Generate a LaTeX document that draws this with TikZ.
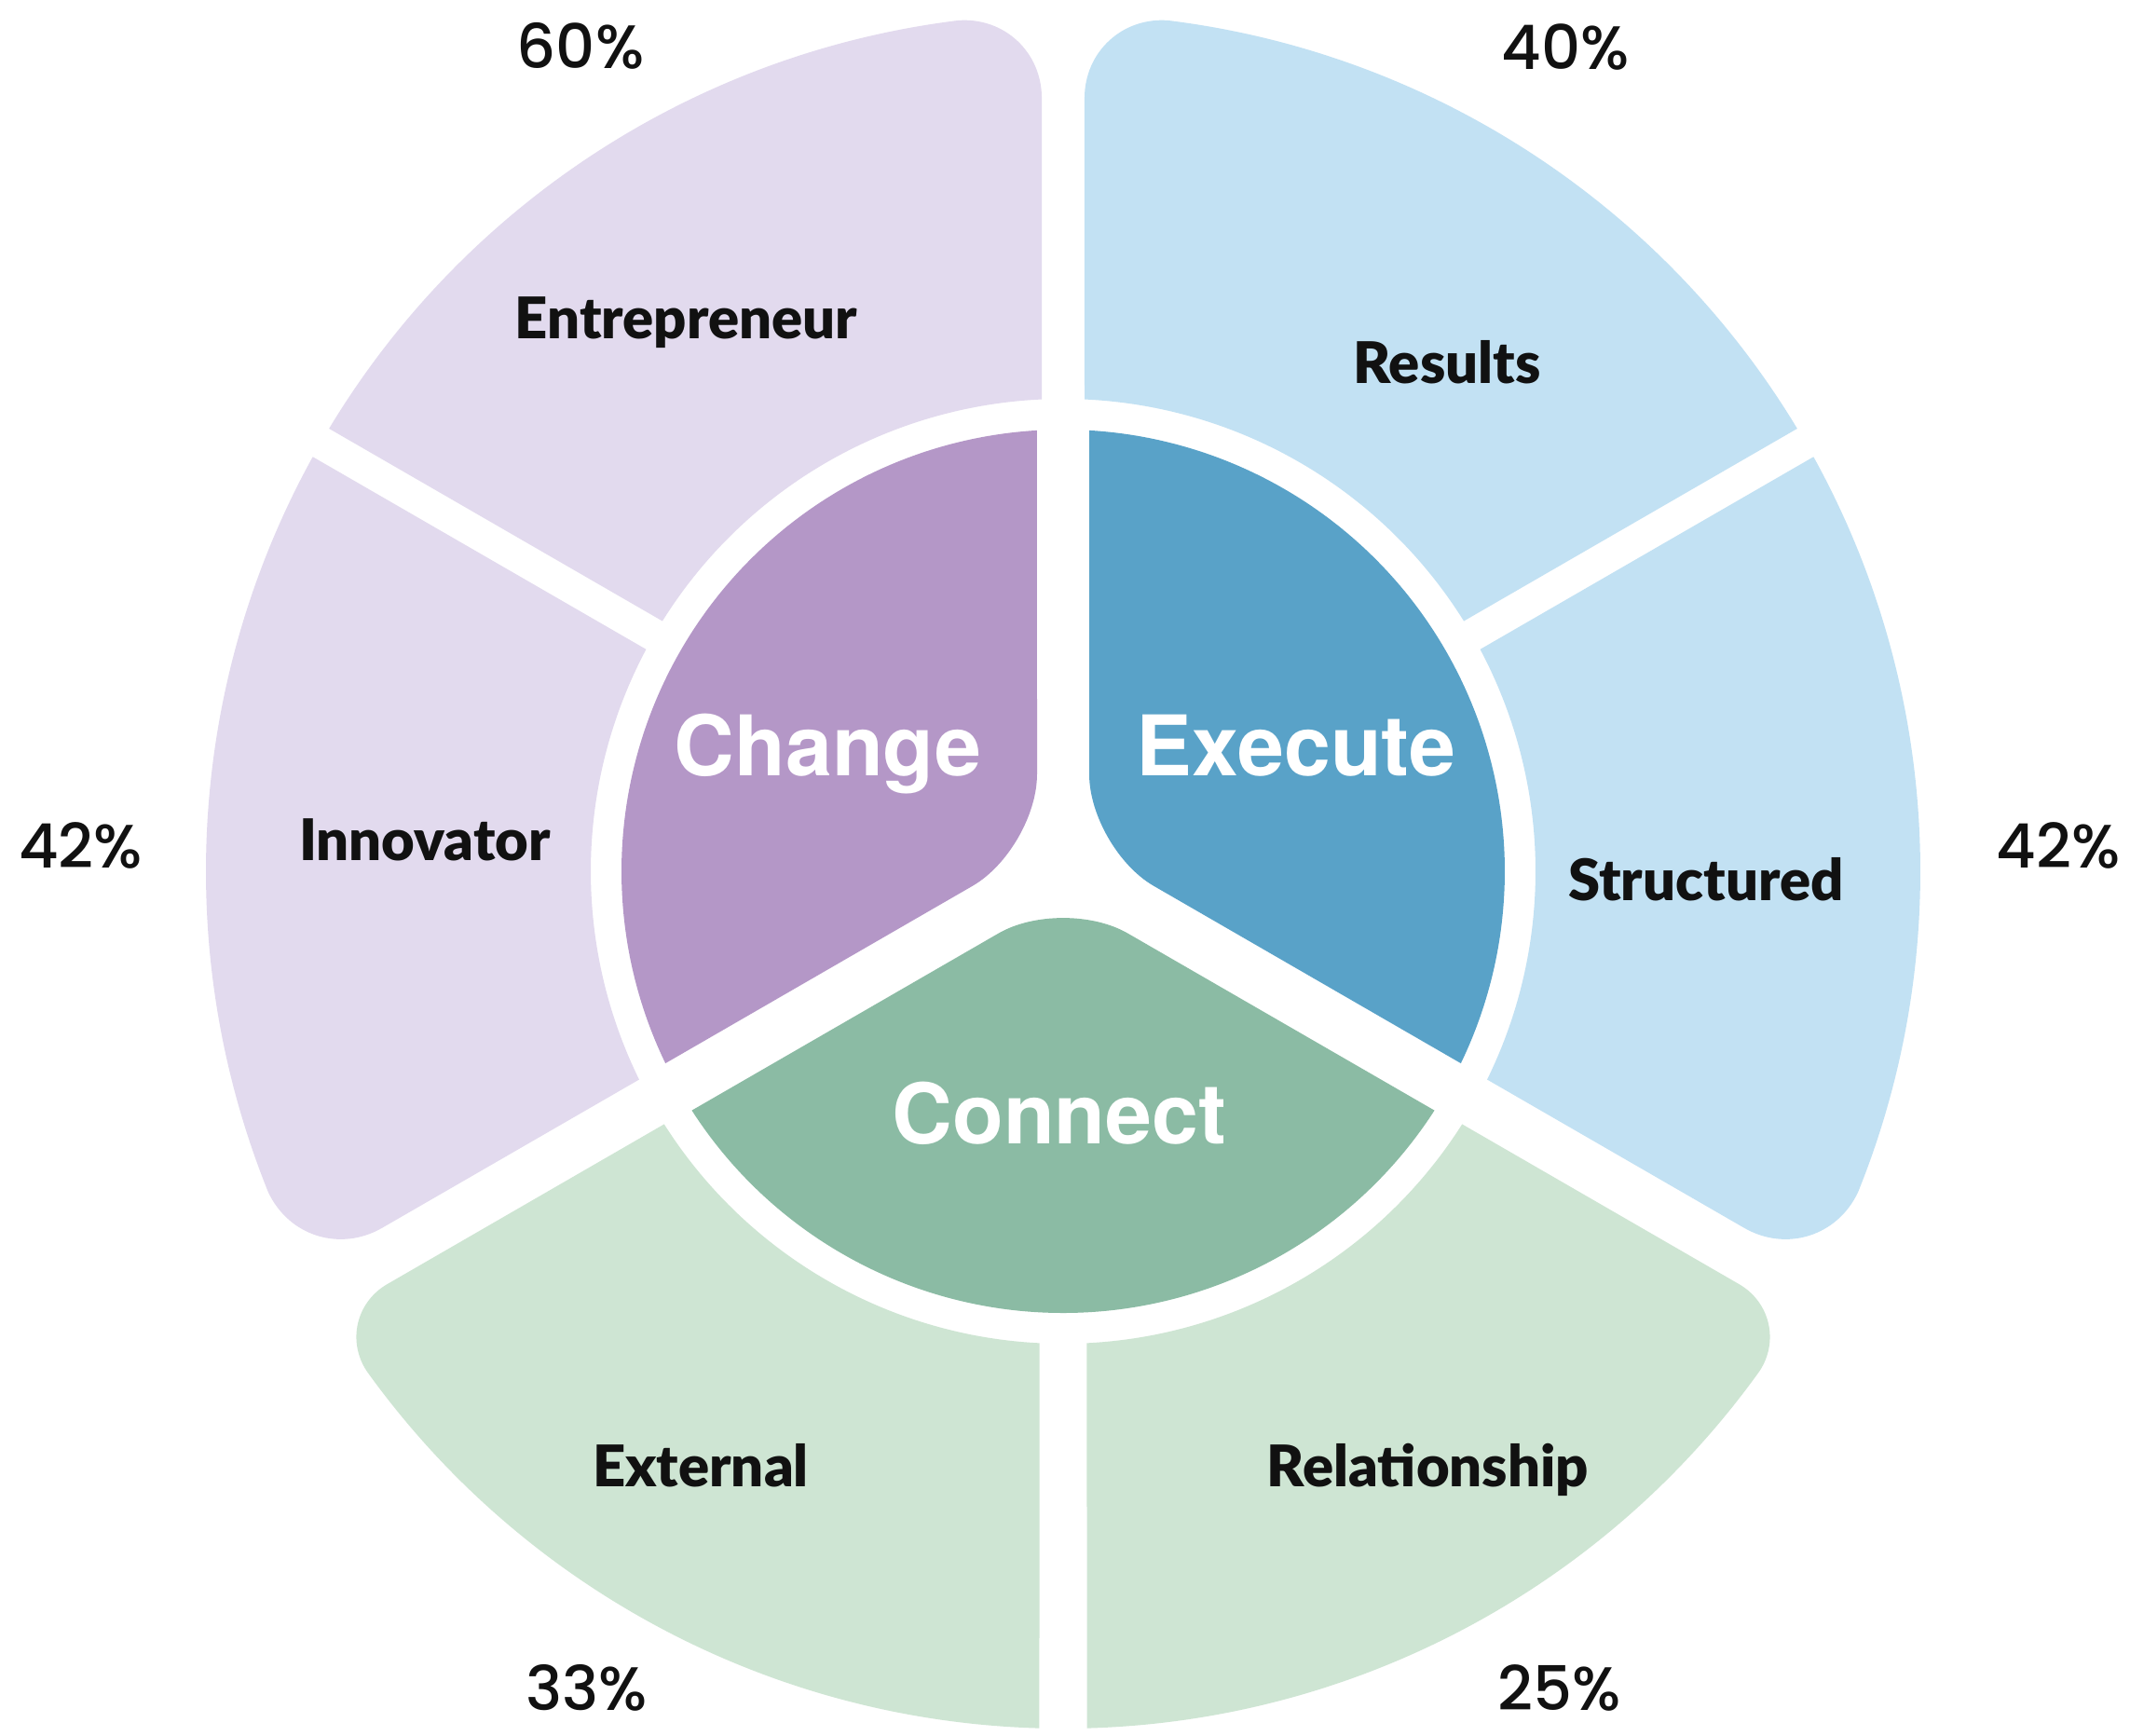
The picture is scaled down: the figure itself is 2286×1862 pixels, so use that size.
\documentclass[tikz,border=0pt]{standalone}
\usepackage{fontspec}
\setmainfont{Lato}
\newfontfamily\headfont{TeX Gyre Heros}
\newfontfamily\segfont{Lato Black}
\newfontfamily\pctfont{Poppins Medium}
\usepackage{xcolor}
\definecolor{ChangeCore}{HTML}{B497C7}
\definecolor{ExecuteCore}{HTML}{59A2C8}
\definecolor{ConnectCore}{HTML}{8BBBA4}
\definecolor{ChangeLight}{HTML}{E2DAEE}
\definecolor{ExecuteLight}{HTML}{C2E1F3}
\definecolor{ConnectLight}{HTML}{CEE5D3}
\definecolor{LabelDark}{HTML}{111111}
\usetikzlibrary{calc}

\begin{document}
\begin{tikzpicture}[
  x=0.01cm, y=0.01cm,
  % Kernsegment (innen)
  core/.style={fill=#1},
  % Ringsegment (aussen)
  ring/.style={fill=#1},
  % Weisser Titel im Kern
  corelbl/.style={
    font=\headfont\bfseries\fontsize{25.5}{30}\selectfont,
    text=white,
    anchor=base,
    inner sep=0pt
  },
  % Segmenttitel im Ring
  seglbl/.style={
    font=\segfont\fontsize{17.5}{21}\selectfont,
    text=LabelDark,
    anchor=base,
    inner sep=0pt
  },
  % Prozentwerte aussen
  pctlbl/.style={
    font=\pctfont\fontsize{18.7}{22}\selectfont,
    text=LabelDark,
    anchor=base,
    inner sep=0pt
  }
]

% =============================================================================
% HINTERGRUND
% =============================================================================
\fill[white] (-1141,-927) rectangle (1145,935);

% =============================================================================
% KERN (r = 474)
% =============================================================================

% Change
\coordinate (chgC) at (-28,24.25);
\coordinate (chgA) at ($(chgC)!0.8cm!(93.39:474)$);
\coordinate (chgB) at ($(chgC)!0.8cm!(205.77:474)$);
\fill[core=ChangeCore] (chgA) -- (93.39:474)
  arc[start angle=93.39, end angle=205.77, radius=474] -- (chgB)
  .. controls ($(chgB)!0.55!(chgC)$) and ($(chgA)!0.55!(chgC)$) .. (chgA) -- cycle;

% Execute
\coordinate (exeC) at (28,24.25);
\coordinate (exeA) at ($(exeC)!0.8cm!(86.61:474)$);
\coordinate (exeB) at ($(exeC)!0.8cm!(-25.77:474)$);
\fill[core=ExecuteCore] (exeA) -- (86.61:474)
  arc[start angle=86.61, end angle=-25.77, radius=474] -- (exeB)
  .. controls ($(exeB)!0.55!(exeC)$) and ($(exeA)!0.55!(exeC)$) .. (exeA) -- cycle;

% Connect
\coordinate (conC) at (0,-26.56);
\coordinate (conA) at ($(conC)!0.8cm!(212.78:474)$);
\coordinate (conB) at ($(conC)!0.8cm!(327.22:474)$);
\fill[core=ConnectCore] (conA) -- (212.78:474)
  arc[start angle=212.78, end angle=327.22, radius=474] -- (conB)
  .. controls ($(conB)!0.55!(conC)$) and ($(conA)!0.55!(conC)$) .. (conA) -- cycle;

% =============================================================================
% RING (r = 507 ... 920)
% =============================================================================

% Entrepreneur
\coordinate (entK) at (91.43:920);
\coordinate (entA) at ($(entK)!0.9cm!(92.60:507)$);
\coordinate (entB) at (97.03:920);
\fill[ring=ChangeLight] (148.02:507) -- (148.91:920)
  arc[start angle=148.91, end angle=97.03, radius=920]
  .. controls ($(entB)!0.55!(entK)$) and ($(entA)!0.55!(entK)$) .. (entA)
  -- (92.60:507) arc[start angle=92.60, end angle=148.02, radius=507] -- cycle;

% Innovator
\coordinate (innK) at (207.88:920);
\coordinate (innA) at ($(innK)!0.95cm!(206.16:507)$);
\coordinate (innB) at (201.96:920);
\fill[ring=ChangeLight] (151.98:507) -- (151.09:920)
  arc[start angle=151.09, end angle=201.96, radius=920]
  .. controls ($(innB)!0.55!(innK)$) and ($(innA)!0.55!(innK)$) .. (innA)
  -- (206.16:507) arc[start angle=206.16, end angle=151.98, radius=507] -- cycle;

% External
\coordinate (extK) at (211.31:920);
\coordinate (extA) at ($(extK)!0.7cm!(212.37:507)$);
\coordinate (extB) at (215.67:920);
\fill[ring=ConnectLight] (212.37:507) -- (extA)
  .. controls ($(extA)!0.55!(extK)$) and ($(extB)!0.55!(extK)$) .. (extB)
  arc[start angle=215.67, end angle=268.41, radius=920]
  -- (267.12:507) arc[start angle=267.12, end angle=212.37, radius=507] -- cycle;

% Relationship
\coordinate (relK) at (328.69:920);
\coordinate (relA) at ($(relK)!0.7cm!(327.63:507)$);
\coordinate (relB) at (324.33:920);
\fill[ring=ConnectLight] (272.88:507) -- (271.59:920)
  arc[start angle=271.59, end angle=324.33, radius=920]
  .. controls ($(relB)!0.55!(relK)$) and ($(relA)!0.55!(relK)$) .. (relA)
  -- (327.63:507) arc[start angle=327.63, end angle=272.88, radius=507] -- cycle;

% Structured
\coordinate (strK) at (-27.88:920);
\coordinate (strA) at ($(strK)!0.95cm!(-26.16:507)$);
\coordinate (strB) at (-21.96:920);
\fill[ring=ExecuteLight] (-26.16:507) -- (strA)
  .. controls ($(strA)!0.55!(strK)$) and ($(strB)!0.55!(strK)$) .. (strB)
  arc[start angle=-21.96, end angle=28.91, radius=920]
  -- (28.02:507) arc[start angle=28.02, end angle=-26.16, radius=507] -- cycle;

% Results
\coordinate (resK) at (88.57:920);
\coordinate (resA) at ($(resK)!0.9cm!(87.40:507)$);
\coordinate (resB) at (82.97:920);
\fill[ring=ExecuteLight] (31.98:507) -- (31.09:920)
  arc[start angle=31.09, end angle=82.97, radius=920]
  .. controls ($(resB)!0.55!(resK)$) and ($(resA)!0.55!(resK)$) .. (resA)
  -- (87.40:507) arc[start angle=87.40, end angle=31.98, radius=507] -- cycle;

% =============================================================================
% BESCHRIFTUNG
% =============================================================================
\node[corelbl] (change) at (-252.5,103) {Change};
\node[corelbl] (execute) at (250,103) {Execute};
\node[corelbl] (connect) at (-4,-292) {Connect};

\node[seglbl] (entre) at (-404.5,572) {Entrepreneur};
\node[seglbl] (results) at (412,524) {Results};
\node[seglbl] (innov) at (-685,12) {Innovator};
\node[seglbl] (struct) at (690,-31) {Structured};
\node[seglbl] (extern) at (-389,-660) {External};
\node[seglbl] (relat) at (391.5,-660) {Relationship};

% Prozentwerte
\node[pctlbl] (pctEnt) at (-518,862) {60\%};
\node[pctlbl] (pctRes) at (539,861) {40\%};
\node[pctlbl] (pctInn) at (-1054.5,3.5) {42\%};
\node[pctlbl] (pctStr) at (1068,4) {42\%};
\node[pctlbl] (pctExt) at (-511,-900) {33\%};
\node[pctlbl] (pctRel) at (533,-900) {25\%};

\end{tikzpicture}
\end{document}
